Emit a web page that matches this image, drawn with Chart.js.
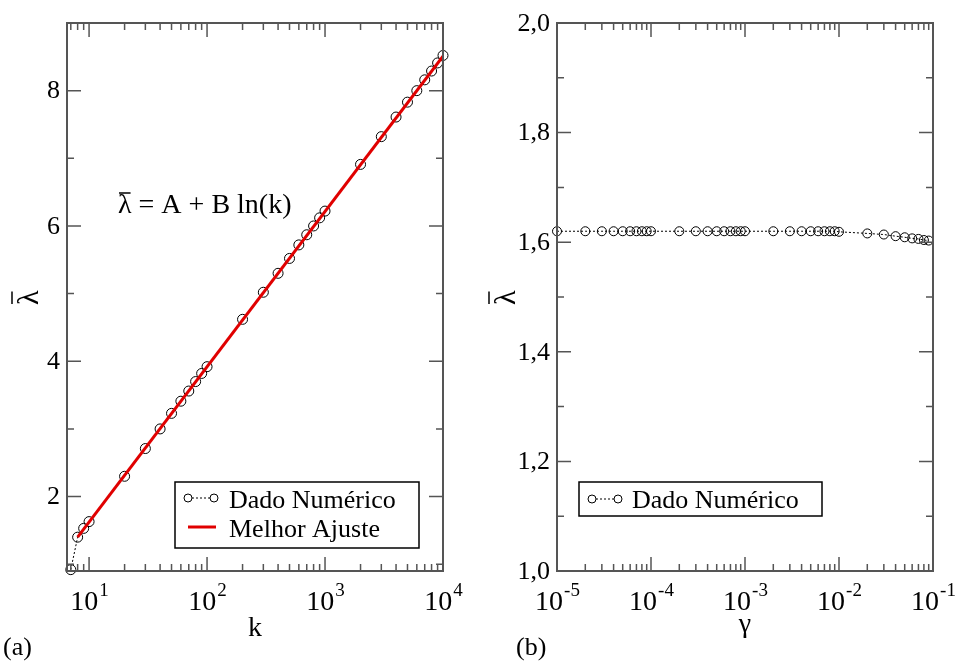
<!DOCTYPE html>
<html>
<head>
<meta charset="utf-8">
<script src="https://cdn.jsdelivr.net/npm/chart.js@4.4.0/dist/chart.umd.min.js"></script>
<style>
  html, body { margin: 0; padding: 0; background: #fff; }
  #wrap { position: relative; width: 958px; height: 662px; }
  canvas { position: absolute; top: 0; }
</style>
</head>
<body>
<div id="wrap">
  <canvas id="chartA" width="479" height="662" style="left:0"></canvas>
  <canvas id="chartB" width="479" height="662" style="left:479px"></canvas>
</div>
<script>
// painel (a): lambda medio contra k
const kValues = [7, 8, 9, 10, 20, 30, 40, 50, 60, 70, 80, 90, 100,
  200, 300, 400, 500, 600, 700, 800, 900, 1000,
  2000, 3000, 4000, 5000, 6000, 7000, 8000, 9000, 10000];
const lambdaK = [0.92, 1.40, 1.53, 1.63, 2.30, 2.71, 3.00, 3.23, 3.41, 3.56, 3.70, 3.82, 3.92,
  4.62, 5.02, 5.30, 5.52, 5.72, 5.87, 6.00, 6.12, 6.22,
  6.91, 7.32, 7.61, 7.83, 8.00, 8.16, 8.29, 8.41, 8.52];
// melhor ajuste (reta em escala log)
const fitK = [8, 10000];
const fitLambda = [1.40, 8.51];

// painel (b): lambda medio contra gamma
const gammaValues = [1e-5, 2e-5, 3e-5, 4e-5, 5e-5, 6e-5, 7e-5, 8e-5, 9e-5,
  1e-4, 2e-4, 3e-4, 4e-4, 5e-4, 6e-4, 7e-4, 8e-4, 9e-4,
  1e-3, 2e-3, 3e-3, 4e-3, 5e-3, 6e-3, 7e-3, 8e-3, 9e-3,
  1e-2, 2e-2, 3e-2, 4e-2, 5e-2, 6e-2, 7e-2, 8e-2, 9e-2];
const lambdaGamma = [1.620, 1.620, 1.620, 1.620, 1.620, 1.620, 1.620, 1.620, 1.620,
  1.620, 1.620, 1.620, 1.620, 1.620, 1.620, 1.620, 1.620, 1.620,
  1.620, 1.620, 1.620, 1.620, 1.620, 1.620, 1.620, 1.620, 1.620,
  1.619, 1.616, 1.614, 1.611, 1.609, 1.607, 1.606, 1.604, 1.603];

const FONT = '"Liberation Serif"';
const FRAME = '#555';

const toPoints = (xs, ys) => xs.map((x, i) => ({ x: x, y: ys[i] }));

// lambda com barra em cima
function drawLambdaBar(ctx, x, y, size, barUp) {
  ctx.font = size + 'px ' + FONT;
  ctx.textAlign = 'left';
  ctx.textBaseline = 'alphabetic';
  const w = ctx.measureText('λ').width;
  ctx.fillText('λ', x, y);
  ctx.beginPath();
  ctx.lineWidth = 1.5;
  ctx.moveTo(x + 1, y - barUp);
  ctx.lineTo(x + w - 1, y - barUp);
  ctx.stroke();
  return w;
}

function drawPow(ctx, x, y, exp) {
  ctx.textAlign = 'left';
  ctx.textBaseline = 'alphabetic';
  ctx.font = '28px ' + FONT;
  const w1 = ctx.measureText('10').width;
  ctx.font = '19px ' + FONT;
  const w2 = ctx.measureText(exp).width;
  const x0 = x - (w1 + w2) / 2;
  ctx.font = '28px ' + FONT;
  ctx.fillText('10', x0, y);
  ctx.font = '19px ' + FONT;
  ctx.fillText(exp, x0 + w1 + 1, y - 14);
}

function framePlugin(opt) {
  return {
    id: 'frame',
    afterDraw(chart) {
      const ctx = chart.ctx;
      const a = chart.chartArea;
      const xs = chart.scales.x, ys = chart.scales.y;
      ctx.save();
      ctx.fillStyle = '#000';
      ctx.strokeStyle = FRAME;

      // ticks (para dentro, nos quatro lados)
      ctx.lineWidth = 1.5;
      ctx.beginPath();
      for (let d = opt.decades[0]; d <= opt.decades[1]; d++) {
        for (let m = 1; m <= 9; m++) {
          const v = m * Math.pow(10, d);
          if (v < xs.min * 0.999 || v > xs.max * 1.001) continue;
          const px = xs.getPixelForValue(v);
          const len = m === 1 ? 14 : 7;
          ctx.moveTo(px, a.bottom); ctx.lineTo(px, a.bottom - len);
          ctx.moveTo(px, a.top); ctx.lineTo(px, a.top + len);
        }
      }
      for (let i = 0; ; i++) {
        const v = opt.yStart + i * opt.yMinor;
        if (v > ys.max + 1e-9) break;
        if (v < ys.min - 1e-9) continue;
        const py = ys.getPixelForValue(v);
        const len = i % 2 === opt.yMajorParity ? 14 : 7;
        ctx.moveTo(a.left, py); ctx.lineTo(a.left + len, py);
        ctx.moveTo(a.right, py); ctx.lineTo(a.right - len, py);
      }
      ctx.stroke();

      ctx.lineWidth = 2;
      ctx.strokeRect(a.left, a.top, a.right - a.left, a.bottom - a.top);

      // rotulos do eixo y
      ctx.font = '26px ' + FONT;
      ctx.textAlign = 'right';
      ctx.textBaseline = 'middle';
      opt.yLabels.forEach(v => {
        ctx.fillText(opt.yFormat(v), a.left - 7, ys.getPixelForValue(v) + 1);
      });

      // rotulos do eixo x
      opt.xLabels.forEach(e => {
        drawPow(ctx, xs.getPixelForValue(Math.pow(10, e)), 610, String(e));
      });

      // titulos
      ctx.font = '28px ' + FONT;
      ctx.textAlign = 'center';
      ctx.textBaseline = 'alphabetic';
      ctx.fillText(opt.xTitle, (a.left + a.right) / 2, opt.xTitleY);

      ctx.save();
      ctx.translate(opt.yTitleX, 297);
      ctx.rotate(-Math.PI / 2);
      ctx.strokeStyle = '#000';
      drawLambdaBar(ctx, -8, 0, 30, 26);
      ctx.restore();

      ctx.font = '26px ' + FONT;
      ctx.textAlign = 'left';
      ctx.fillText(opt.panel, opt.panelX, 655);

      // equacao
      if (opt.equation) {
        ctx.strokeStyle = '#000';
        const w = drawLambdaBar(ctx, 118, 213, 28, 20);
        ctx.font = '28px ' + FONT;
        ctx.fillText(' = A + B ln(k)', 118 + w, 213);
      }

      // legenda
      const L = opt.legend;
      ctx.fillStyle = '#fff';
      ctx.fillRect(L.x, L.y, L.w, L.h);
      ctx.strokeStyle = '#000';
      ctx.lineWidth = 1.5;
      ctx.strokeRect(L.x, L.y, L.w, L.h);
      ctx.fillStyle = '#000';
      L.items.forEach(it => {
        if (it.kind === 'data') {
          ctx.beginPath();
          ctx.lineWidth = 1;
          ctx.setLineDash([2, 2]);
          ctx.moveTo(it.sx + 4, it.y); ctx.lineTo(it.sx + 26 - 4, it.y);
          ctx.stroke();
          ctx.setLineDash([]);
          [it.sx, it.sx + 26].forEach(cx => {
            ctx.beginPath();
            ctx.arc(cx, it.y, 4, 0, Math.PI * 2);
            ctx.stroke();
          });
        } else {
          ctx.beginPath();
          ctx.strokeStyle = '#e00000';
          ctx.lineWidth = 3;
          ctx.moveTo(it.sx, it.y); ctx.lineTo(it.sx + 28, it.y);
          ctx.stroke();
          ctx.strokeStyle = '#000';
        }
        ctx.font = '26px ' + FONT;
        ctx.textAlign = 'left';
        ctx.textBaseline = 'alphabetic';
        ctx.fillText(it.text, it.tx, it.ty);
      });
      ctx.restore();
    }
  };
}

function axes(xmin, xmax, ymin, ymax, yWidth) {
  const hidden = { ticks: { display: false }, grid: { display: false }, border: { display: false } };
  return {
    x: Object.assign({ type: 'logarithmic', min: xmin, max: xmax,
      afterFit(s) { s.height = 91; } }, hidden),
    y: Object.assign({ type: 'linear', min: ymin, max: ymax,
      afterFit(s) { s.width = yWidth; } }, hidden)
  };
}

const dataStyle = {
  showLine: true,
  borderColor: '#000',
  borderWidth: 1,
  borderDash: [2, 2],
  pointStyle: 'circle',
  pointBorderColor: '#000',
  pointBackgroundColor: 'rgba(0,0,0,0)',
  pointBorderWidth: 1,
  clip: 12,
  order: 1
};

new Chart(document.getElementById('chartA'), {
  type: 'scatter',
  data: {
    datasets: [
      { label: 'Melhor Ajuste', data: toPoints(fitK, fitLambda), showLine: true,
        borderColor: '#e00000', borderWidth: 3, pointRadius: 0, order: 0 },
      Object.assign({ label: 'Dado Numérico', data: toPoints(kValues, lambdaK), pointRadius: 5 }, dataStyle)
    ]
  },
  options: {
    responsive: false,
    animation: false,
    events: [],
    layout: { padding: { left: 0, top: 23, right: 36, bottom: 0 } },
    scales: axes(6.5, 10000, 0.9, 9, 67),
    plugins: { legend: { display: false }, tooltip: { enabled: false } }
  },
  plugins: [framePlugin({
    decades: [0, 4],
    yStart: 1, yMinor: 1, yMajorParity: 1,
    yLabels: [2, 4, 6, 8],
    yFormat: v => String(v),
    xLabels: [1, 2, 3, 4],
    xTitle: 'k', xTitleY: 636,
    yTitleX: 38,
    panel: '(a)', panelX: 3,
    equation: true,
    legend: { x: 175, y: 482, w: 244, h: 66, items: [
      { kind: 'data', sx: 188, y: 498, text: 'Dado Numérico', tx: 229, ty: 508 },
      { kind: 'fit', sx: 188, y: 527, text: 'Melhor Ajuste', tx: 229, ty: 537 }
    ] }
  })]
});

new Chart(document.getElementById('chartB'), {
  type: 'scatter',
  data: {
    datasets: [
      Object.assign({ label: 'Dado Numérico', data: toPoints(gammaValues, lambdaGamma), pointRadius: 4.5 }, dataStyle)
    ]
  },
  options: {
    responsive: false,
    animation: false,
    events: [],
    layout: { padding: { left: 0, top: 23, right: 25, bottom: 0 } },
    scales: axes(1e-5, 1e-1, 1.0, 2.0, 78),
    plugins: { legend: { display: false }, tooltip: { enabled: false } }
  },
  plugins: [framePlugin({
    decades: [-5, -1],
    yStart: 1.0, yMinor: 0.1, yMajorParity: 0,
    yLabels: [1.0, 1.2, 1.4, 1.6, 1.8, 2.0],
    yFormat: v => v.toFixed(1).replace('.', ','),
    xLabels: [-5, -4, -3, -2, -1],
    xTitle: 'γ', xTitleY: 632,
    yTitleX: 36,
    panel: '(b)', panelX: 37,
    equation: false,
    legend: { x: 100, y: 482, w: 243, h: 34, items: [
      { kind: 'data', sx: 113, y: 499, text: 'Dado Numérico', tx: 153, ty: 508 }
    ] }
  })]
});
</script>
</body>
</html>
